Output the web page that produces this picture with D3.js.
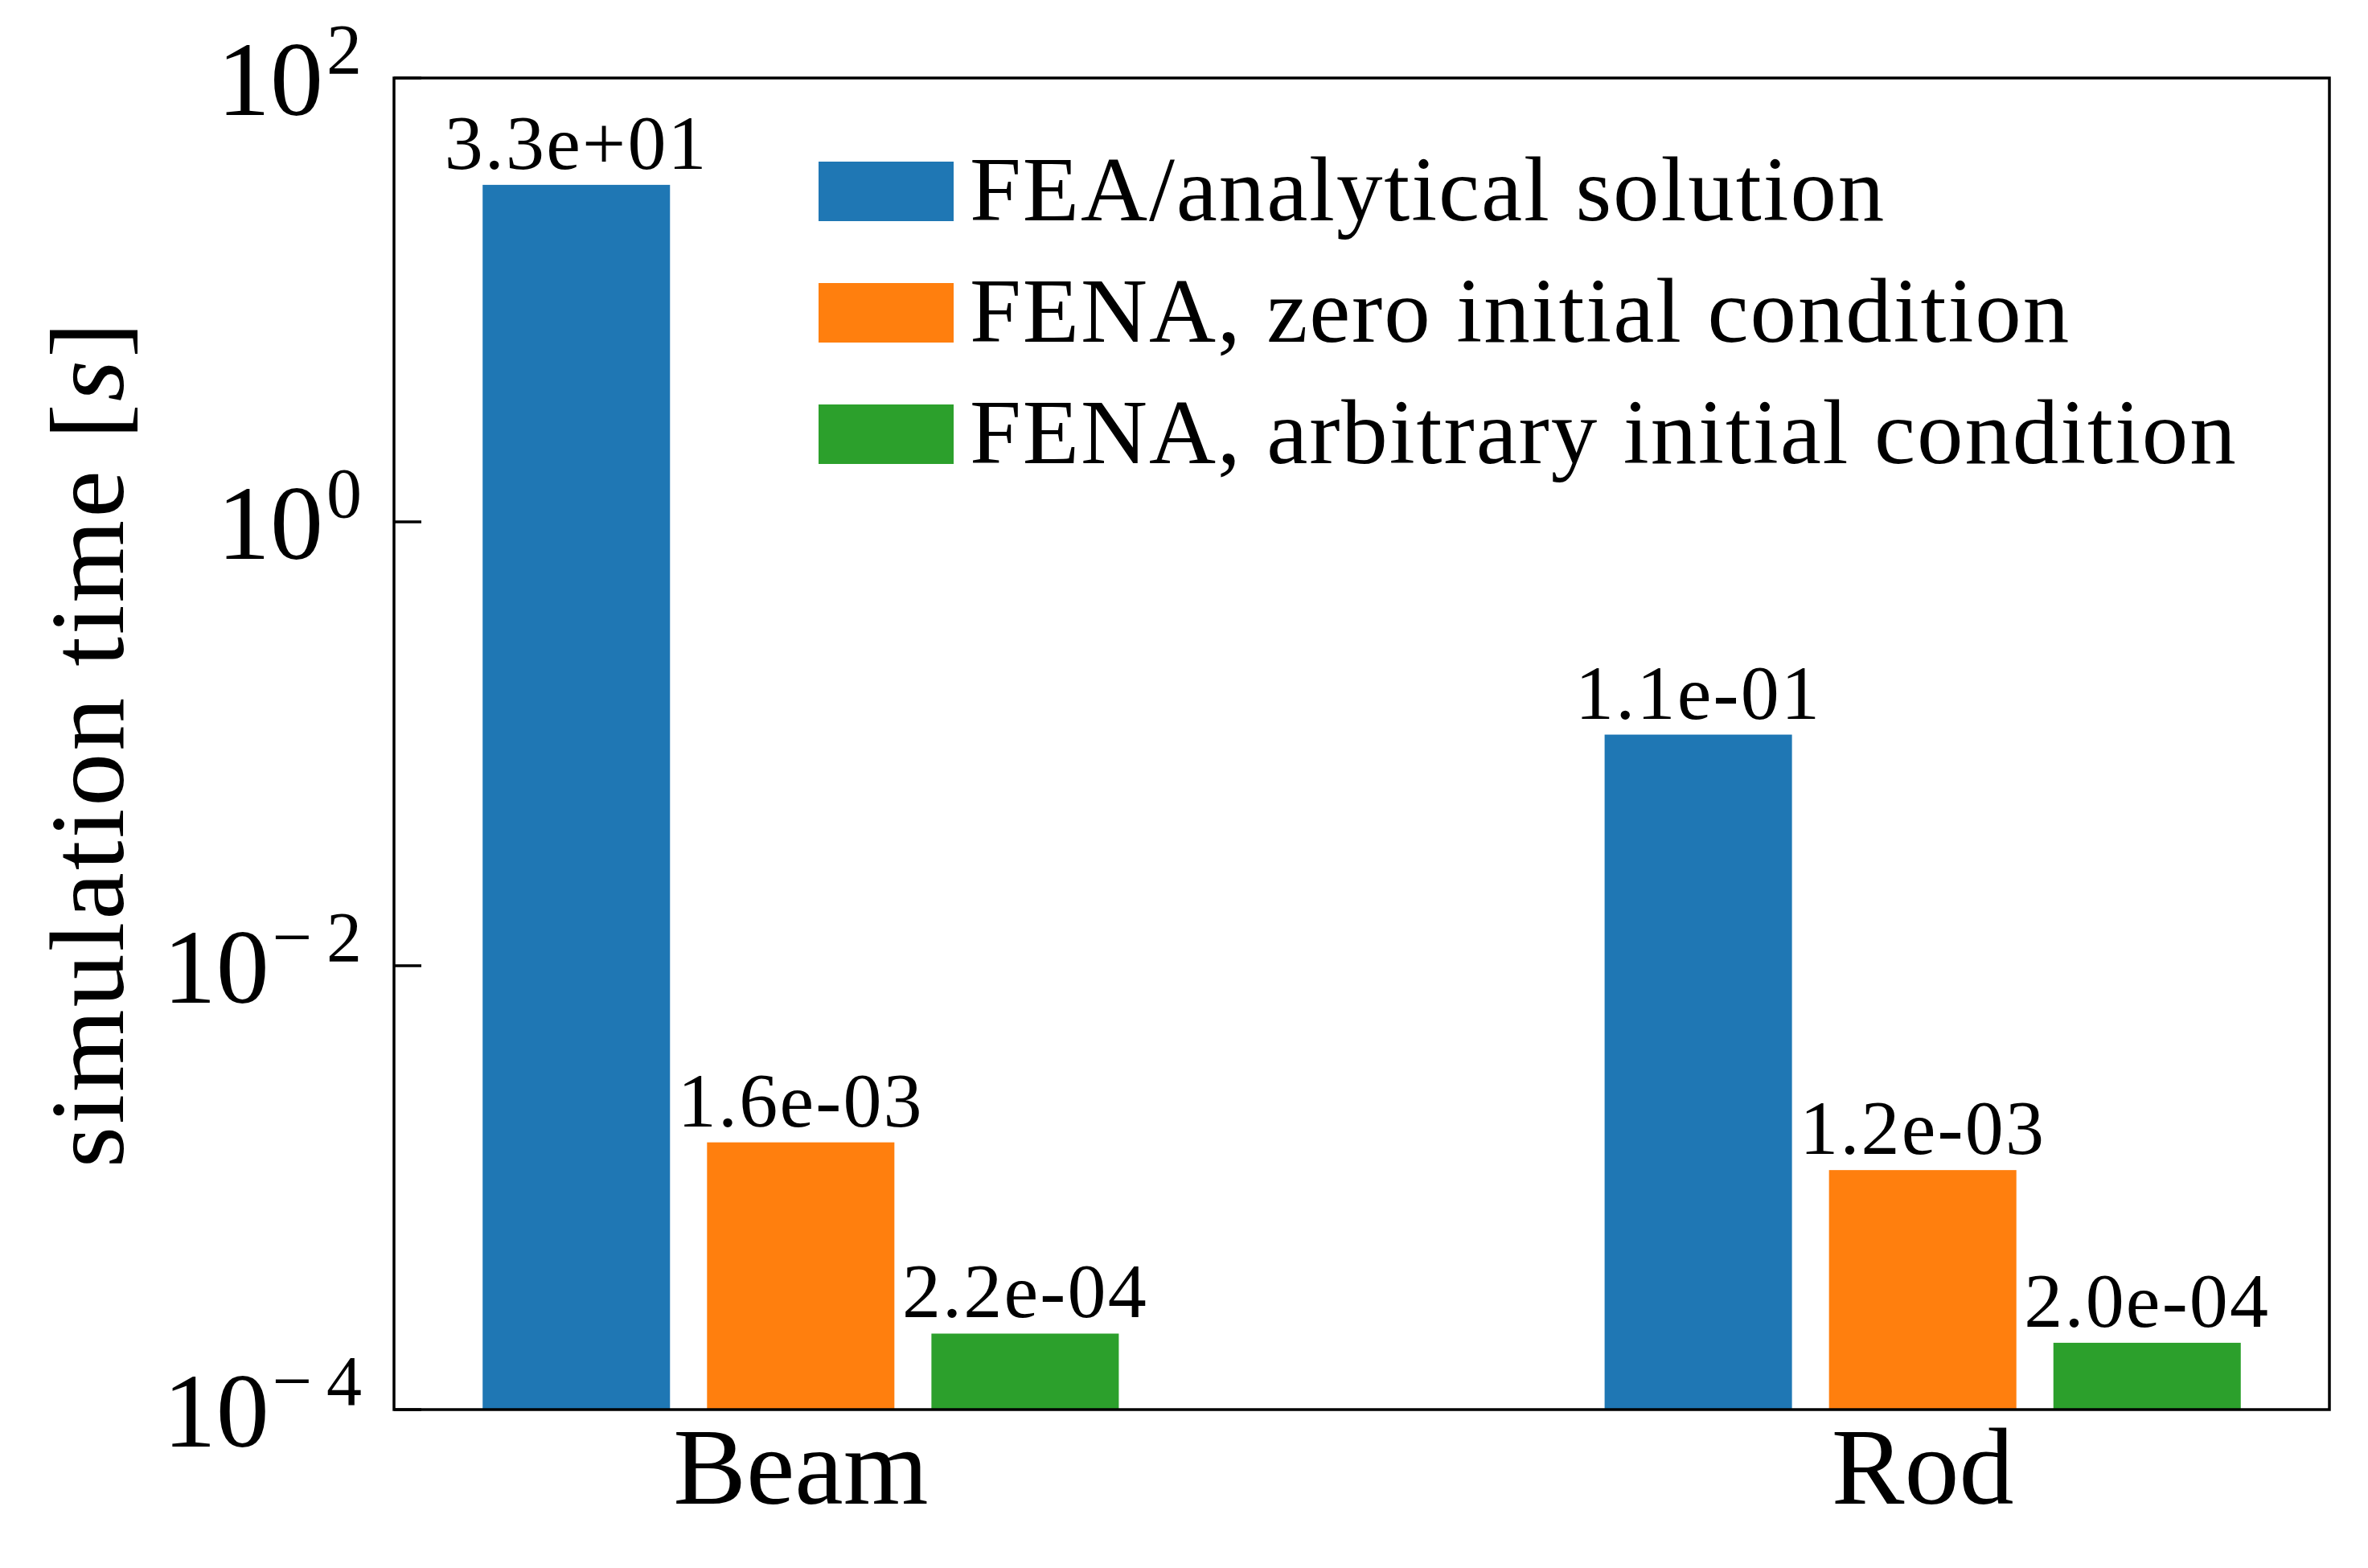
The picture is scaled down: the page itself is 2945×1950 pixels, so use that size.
<!DOCTYPE html>
<html>
<head>
<meta charset="utf-8">
<script src="https://cdn.jsdelivr.net/npm/d3@7"></script>
<style>
  body { margin: 0; background: #fff; }
  text { font-family: "Liberation Serif", "DejaVu Serif", serif; fill: #000; }
</style>
</head>
<body>
<div id="app"></div>
<script>
/////////DATA///////////
const categories = ["Beam", "Rod"];
const series = ["FEA/analytical solution", "FENA, zero initial condition", "FENA, arbitrary initial condition"];
const feaTimes = [33, 0.11];
const fenaZeroTimes = [1.6e-3, 1.2e-3];
const fenaArbTimes = [2.2e-4, 2.0e-4];
const yTicks = [1e-4, 1e-2, 1, 1e2];
const colors = ["#1f77b4", "#ff7f0e", "#2ca02c"];

const seriesValues = [feaTimes, fenaZeroTimes, fenaArbTimes];

/////////SVG//////////
const w = 2945, h = 1950;
const padL = 490, padR = 2897, padT = 97, padB = 1753;

const svg = d3.select('#app')
  .append('svg')
  .attr('width', w)
  .attr('height', h);

/////////SCALES//////////
const xScale = d3.scaleLinear()
  .domain([-0.3625, 1.3625])
  .range([padL, padR]);

const inner = d3.scaleBand()
  .domain(series)
  .range([-0.2835, 0.2835])
  .paddingInner(0.165);

const yScale = d3.scaleLog()
  .domain([1e-4, 1e2])
  .range([padB, padT]);

function expLabel(v) {
  // matplotlib style "%.1e"
  const [m, e] = v.toExponential(1).split('e');
  const n = +e;
  return m + 'e' + (n < 0 ? '-' : '+') + String(Math.abs(n)).padStart(2, '0');
}

/////////BARS//////////
const rows = [];
series.forEach((s, si) => {
  categories.forEach((c, ci) => {
    rows.push({ series: s, si: si, cat: ci, value: seriesValues[si][ci] });
  });
});

const bx = (d) => xScale(d.cat + inner(d.series));
const bw = xScale(inner.bandwidth()) - xScale(0);

svg.selectAll('rect.bar')
  .data(rows)
  .enter()
  .append('rect')
  .attr('class', 'bar')
  .attr('x', bx)
  .attr('width', bw)
  .attr('y', (d) => yScale(d.value))
  .attr('height', (d) => yScale(1e-4) - yScale(d.value))
  .attr('fill', (d) => colors[d.si]);

svg.selectAll('text.val')
  .data(rows)
  .enter()
  .append('text')
  .attr('class', 'val')
  .attr('x', (d) => bx(d) + bw / 2)
  .attr('y', (d) => yScale(d.value) - 20)
  .attr('text-anchor', 'middle')
  .style('font-size', '96px')
  .style('letter-spacing', '2.2px')
  .text((d) => expLabel(d.value));

/////////AXES//////////
svg.append('rect')
  .attr('x', padL)
  .attr('y', padT)
  .attr('width', padR - padL)
  .attr('height', padB - padT)
  .attr('fill', 'none')
  .attr('stroke', '#000')
  .attr('stroke-width', 3.5);

const yAxis = svg.append('g');
yAxis.selectAll('line')
  .data(yTicks)
  .enter()
  .append('line')
  .attr('x1', padL)
  .attr('x2', padL + 34)
  .attr('y1', (d) => yScale(d))
  .attr('y2', (d) => yScale(d))
  .attr('stroke', '#000')
  .attr('stroke-width', 3.5);

const tickLab = yAxis.selectAll('text')
  .data(yTicks)
  .enter()
  .append('text')
  .attr('x', padL - 40)
  .attr('y', (d) => yScale(d) + 46)
  .attr('text-anchor', 'end');
tickLab.append('tspan')
  .style('font-size', '132px')
  .text('10');
tickLab.append('tspan')
  .attr('dy', -52)
  .attr('dx', 4)
  .style('font-size', '88px')
  .text((d) => {
    const e = Math.round(Math.log10(d));
    return (e < 0 ? '\u2212\u2009' : '') + Math.abs(e);
  });

svg.selectAll('text.cat')
  .data(categories)
  .enter()
  .append('text')
  .attr('class', 'cat')
  .attr('x', (d, i) => xScale(i))
  .attr('y', 1870)
  .attr('text-anchor', 'middle')
  .style('font-size', '136px')
  .text((d) => d);

const yLab = svg.append('text')
  .attr('transform', 'translate(153,' + (padT + padB) / 2 + ') rotate(-90)')
  .attr('text-anchor', 'middle')
  .style('font-size', '132px')
  .style('letter-spacing', '3px');
yLab.append('tspan').text('simulation time [');
yLab.append('tspan').style('font-style', 'italic').text('s');
yLab.append('tspan').text(']');

/////////LEGEND//////////
const legend = svg.append('g')
  .selectAll('g')
  .data(series)
  .enter()
  .append('g')
  .attr('transform', (d, i) => 'translate(1018,' + (238 + i * 151) + ')');

legend.append('rect')
  .attr('x', 0)
  .attr('y', -37)
  .attr('width', 168)
  .attr('height', 74)
  .attr('fill', (d, i) => colors[i]);

legend.append('text')
  .attr('x', 188)
  .attr('y', 36)
  .style('font-size', '115px')
  .style('letter-spacing', '1.9px')
  .text((d) => d);
</script>
</body>
</html>
